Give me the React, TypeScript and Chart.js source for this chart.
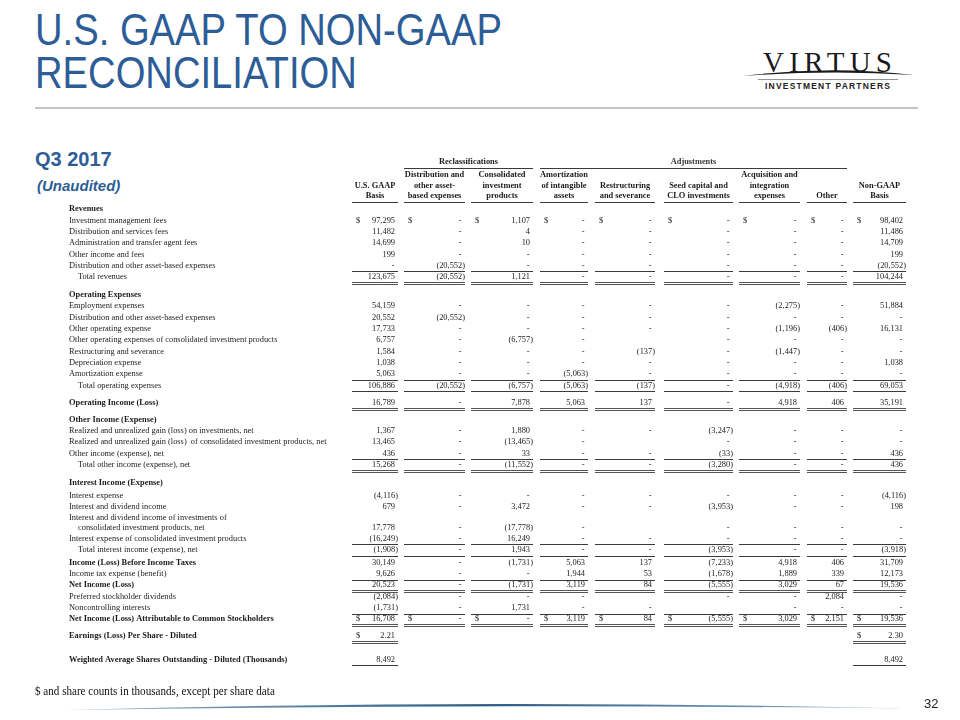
import React, { useEffect, useRef } from "react";
import { Chart, registerables } from "chart.js";

Chart.register(...registerables);

// ---------- DATA ----------
const rowLabels: string[] = [
  "Revenues",
  "Investment management fees",
  "Distribution and services fees",
  "Administration and transfer agent fees",
  "Other income and fees",
  "Distribution and other asset-based expenses",
  "Total revenues",
  "Operating Expenses",
  "Employment expenses",
  "Distribution and other asset-based expenses",
  "Other operating expense",
  "Other operating expenses of consolidated investment products",
  "Restructuring and severance",
  "Depreciation expense",
  "Amortization expense",
  "Total operating expenses",
  "Operating Income (Loss)",
  "Other Income (Expense)",
  "Realized and unrealized gain (loss) on investments, net",
  "Realized and unrealized gain (loss)  of consolidated investment products, net",
  "Other income (expense), net",
  "Total other income (expense), net",
  "Interest Income (Expense)",
  "Interest expense",
  "Interest and dividend income",
  "Interest and dividend income of investments of",
  "consolidated investment products, net",
  "Interest expense of consolidated investment products",
  "Total interest income (expense), net",
  "Income (Loss) Before Income Taxes",
  "Income tax expense (benefit)",
  "Net Income (Loss)",
  "Preferred stockholder dividends",
  "Noncontrolling interests",
  "Net Income (Loss) Attributable to Common Stockholders",
  "Earnings (Loss) Per Share - Diluted",
  "Weighted Average Shares Outstanding - Diluted (Thousands)",
];

const columnHeaders: string[][] = [
  ["", "U.S. GAAP", "Basis"],
  ["Distribution and", "other asset-", "based expenses"],
  ["Consolidated", "investment", "products"],
  ["Amortization", "of intangible", "assets"],
  ["", "Restructuring", "and severance"],
  ["", "Seed capital and", "CLO investments"],
  ["Acquisition and", "integration", "expenses"],
  ["", "", "Other"],
  ["", "Non-GAAP", "Basis"],
];

const groupHeaders = [
  { label: "Reclassifications", from: 1, to: 2 },
  { label: "Adjustments", from: 3, to: 7 },
];

// null = blank cell, 0 = "-"
const _ = null;
const gaapBasis = [
  _, 97295, 11482, 14699, 199, 0, 123675,
  _, 54159, 20552, 17733, 6757, 1584, 1038, 5063, 106886,
  16789,
  _, 1367, 13465, 436, 15268,
  _, -4116, 679, _, 17778, -16249, -1908,
  30149, 9626, 20523, -2084, -1731, 16708,
  2.21, 8492,
];
const distributionReclass = [
  _, 0, 0, 0, 0, -20552, -20552,
  _, 0, -20552, 0, 0, 0, 0, 0, -20552,
  0,
  _, 0, 0, 0, 0,
  _, 0, 0, _, 0, 0, 0,
  0, 0, 0, 0, 0, 0,
  _, _,
];
const consolidatedReclass = [
  _, 1107, 4, 10, 0, 0, 1121,
  _, 0, 0, 0, -6757, 0, 0, 0, -6757,
  7878,
  _, 1880, -13465, 33, -11552,
  _, 0, 3472, _, -17778, 16249, 1943,
  -1731, 0, -1731, 0, 1731, 0,
  _, _,
];
const amortizationAdj = [
  _, 0, 0, 0, 0, 0, 0,
  _, 0, 0, 0, 0, 0, 0, -5063, -5063,
  5063,
  _, 0, 0, 0, 0,
  _, 0, 0, _, 0, 0, 0,
  5063, 1944, 3119, 0, 0, 3119,
  _, _,
];
const restructuringAdj = [
  _, 0, 0, 0, 0, 0, 0,
  _, 0, 0, 0, _, -137, 0, 0, -137,
  137,
  _, 0, _, 0, 0,
  _, 0, 0, _, _, 0, 0,
  137, 53, 84, _, 0, 84,
  _, _,
];
const seedCapitalAdj = [
  _, 0, 0, 0, 0, 0, 0,
  _, 0, 0, 0, 0, 0, 0, 0, 0,
  0,
  _, -3247, 0, -33, -3280,
  _, 0, -3953, _, 0, 0, -3953,
  -7233, -1678, -5555, 0, _, -5555,
  _, _,
];
const acquisitionAdj = [
  _, 0, 0, 0, 0, 0, 0,
  _, -2275, 0, -1196, 0, -1447, 0, 0, -4918,
  4918,
  _, 0, 0, 0, 0,
  _, 0, 0, _, 0, 0, 0,
  4918, 1889, 3029, 0, 0, 3029,
  _, _,
];
const otherAdj = [
  _, 0, 0, 0, 0, 0, 0,
  _, 0, 0, -406, 0, 0, 0, 0, -406,
  406,
  _, 0, 0, 0, 0,
  _, 0, 0, _, 0, 0, 0,
  406, 339, 67, 2084, 0, 2151,
  _, _,
];
const nonGaapBasis = [
  _, 98402, 11486, 14709, 199, -20552, 104244,
  _, 51884, 0, 16131, 0, 0, 1038, 0, 69053,
  35191,
  _, 0, 0, 436, 436,
  _, -4116, 198, _, 0, 0, -3918,
  31709, 12173, 19536, 0, 0, 19536,
  2.3, 8492,
];

const seriesColumns = [
  gaapBasis, distributionReclass, consolidatedReclass, amortizationAdj, restructuringAdj,
  seedCapitalAdj, acquisitionAdj, otherAdj, nonGaapBasis,
];

// ---------- STYLE / LAYOUT ----------
const boldRows = [0, 7, 16, 17, 22, 29, 31, 34, 35, 36];
const indentRows = [6, 15, 21, 26, 28];
const dollarRows = [1, 34, 35];
const decimalRows = [35];
const rowGaps = [
  0, 1, 1, 1, 1, 1, 1,
  1.55, 1, 1, 1, 1, 1, 1, 1, 1,
  1.55,
  1.45, 1, 1, 1, 1,
  1.55, 1.15, 1, 1, 0.8, 1, 1,
  1.1, 1, 1, 1, 1, 1,
  1.45, 2.1,
];
// rules drawn below rows: [row, kind, onlyBasisCols]
const ruleBelow: [number, "single" | "double", boolean][] = [
  [5, "single", false], [6, "double", false],
  [14, "single", false], [15, "single", false], [16, "double", false],
  [20, "single", false], [21, "double", false],
  [27, "single", false], [28, "single", false],
  [30, "single", false], [31, "double", false],
  [33, "single", false], [34, "double", false],
  [35, "double", true], [36, "single", true],
];
const COLS = [
  { l: 352, r: 398 }, { l: 404, r: 465 }, { l: 471, r: 533 }, { l: 540, r: 588 },
  { l: 595, r: 655 }, { l: 664, r: 733 }, { l: 739, r: 800 }, { l: 807, r: 847 },
  { l: 853, r: 906 },
];
const LABEL_X = 69;
const INDENT_X = 78;
const PITCH = 11.35;
const FIRST_ROW_PX = 209;
const Y_MIN = -FIRST_ROW_PX / PITCH;
const Y_MAX = Y_MIN + 720 / PITCH;
const SERIF = '"Liberation Serif", "Times New Roman", serif';
const FS = 8.4;
const TEXT = "#1c1c1c";
const RULE = "#3a3a3a";
const BLUE = "#2d5d96";

const rowUnits: number[] = [];
rowGaps.reduce((acc, g, i) => {
  const u = acc + g;
  rowUnits[i] = u;
  return u;
}, 0);

function fmt(v: number, dec: boolean) {
  if (v === 0) return "-";
  const s = Math.abs(v).toLocaleString("en-US", {
    minimumFractionDigits: dec ? 2 : 0,
    maximumFractionDigits: dec ? 2 : 0,
  });
  return v < 0 ? `(${s})` : s;
}

const tablePlugin = {
  id: "reconTable",
  afterDatasetsDraw(chart: any) {
    const ctx: CanvasRenderingContext2D = chart.ctx;
    const xs = chart.scales.x;
    const ys = chart.scales.y;
    const X = (v: number) => xs.getPixelForValue(v);
    const Y = (v: number) => ys.getPixelForValue(v);
    const hline = (x1: number, x2: number, y: number, c = RULE) => {
      ctx.fillStyle = c;
      ctx.fillRect(Math.round(X(x1)), Math.round(Y(y)), Math.round(X(x2) - X(x1)), 1);
    };
    ctx.save();
    ctx.textBaseline = "middle";

    // group headers
    ctx.font = `bold ${FS}px ${SERIF}`;
    ctx.fillStyle = TEXT;
    ctx.textAlign = "center";
    groupHeaders.forEach((g) => {
      const x1 = COLS[g.from].l, x2 = COLS[g.to].r;
      ctx.fillText(g.label, X((x1 + x2) / 2), Y(-4.14));
      hline(x1, x2, -3.62);
    });
    // column headers
    columnHeaders.forEach((lines, ci) => {
      const c = COLS[ci];
      ctx.fillStyle = TEXT;
      lines.forEach((t, li) => {
        if (t) ctx.fillText(t, X((c.l + c.r) / 2), Y(-3.0 + li * 0.93));
      });
      hline(c.l, c.r, -0.6);
    });

    // row labels
    ctx.textAlign = "left";
    rowLabels.forEach((label, ri) => {
      ctx.font = `${boldRows.includes(ri) ? "bold " : ""}${FS}px ${SERIF}`;
      ctx.fillStyle = TEXT;
      ctx.fillText(label, X(indentRows.includes(ri) ? INDENT_X : LABEL_X), Y(rowUnits[ri]));
    });

    // values (placed at dataset element positions)
    ctx.font = `${FS}px ${SERIF}`;
    chart.data.datasets.forEach((ds: any, di: number) => {
      const meta = chart.getDatasetMeta(di);
      const c = COLS[di];
      meta.data.forEach((el: any, i: number) => {
        const raw = ds.data[i];
        const v = raw.v as number;
        const dec = decimalRows.includes(raw.row);
        const txt = fmt(v, dec);
        ctx.fillStyle = TEXT;
        ctx.textAlign = "right";
        const shift = v < 0 ? 0 : v === 0 ? 3.5 : 3;
        ctx.fillText(txt, el.x - shift, el.y);
        if (dollarRows.includes(raw.row)) {
          ctx.textAlign = "left";
          ctx.fillText("$", X(c.l + 4), el.y);
        }
      });
    });

    // rules
    ruleBelow.forEach(([ri, kind, only]) => {
      COLS.forEach((c, ci) => {
        if (only && ci !== 0 && ci !== 8) return;
        if (kind === "single") {
          hline(c.l, c.r, rowUnits[ri] + 5.6 / PITCH);
        } else {
          const yu = rowUnits[ri] + 5.0 / PITCH;
          hline(c.l, c.r, yu, "#555");
          hline(c.l, c.r, yu + 2 / PITCH, "#555");
        }
      });
    });
    ctx.restore();
  },
};

function Logo() {
  return (
    <svg width={960} height={120} style={{ position: "absolute", left: 0, top: 0 }}>
      <text x={763} y={72} fontFamily={SERIF} fontSize={29} fill="#1a1a1a" textLength={129} lengthAdjust="spacing">
        VIRTUS
      </text>
      <path d="M743,76 Q829,65 914,75 Q829,69.5 743,76 Z" fill="#1a1a1a" />
      <line x1={758} y1={79.5} x2={898} y2={79.5} stroke="#777" strokeWidth={0.8} />
      <text x={765} y={89} fontFamily='"Liberation Sans", Arial, sans-serif' fontWeight="bold" fontSize={8.5} fill="#222" textLength={125} lengthAdjust="spacing">
        INVESTMENT PARTNERS
      </text>
      <line x1={35} y1={108} x2={918} y2={108} stroke="#c4c4c4" strokeWidth={2} />
    </svg>
  );
}

function FooterLine() {
  return (
    <svg width={960} height={720} style={{ position: "absolute", left: 0, top: 0, pointerEvents: "none" }}>
      <defs>
        <linearGradient id="fl" x1="0" x2="1" y1="0" y2="0">
          <stop offset="0" stopColor="#8fb0c8" />
          <stop offset="0.5" stopColor="#2c5d86" />
          <stop offset="1" stopColor="#8fb0c8" />
        </linearGradient>
      </defs>
      <path d="M65,710 Q487,699 907,708.5 Q487,703.5 65,710 Z" fill="url(#fl)" />
    </svg>
  );
}

export default function App() {
  const canvasRef = useRef<HTMLCanvasElement>(null);

  useEffect(() => {
    const datasets = seriesColumns.map((series, ci) => ({
      label: columnHeaders[ci].filter(Boolean).join(" "),
      data: series
        .map((v, ri) => (v === null ? null : { x: COLS[ci].r, y: rowUnits[ri], v, row: ri }))
        .filter((p) => p !== null),
      pointRadius: 0,
      showLine: false,
    }));
    const chart = new Chart(canvasRef.current as HTMLCanvasElement, {
      type: "scatter",
      data: { datasets: datasets as any },
      options: {
        animation: false,
        responsive: false,
        events: [],
        layout: { padding: 0 },
        plugins: {
          legend: { display: false },
          tooltip: { enabled: false },
          title: { display: false },
        },
        scales: {
          x: { type: "linear", display: false, min: 0, max: 960 },
          y: { type: "linear", display: false, reverse: true, min: Y_MIN, max: Y_MAX },
        },
      },
      plugins: [tablePlugin as any],
    });
    return () => chart.destroy();
  }, []);

  const sans = '"Liberation Sans", Arial, sans-serif';
  return (
    <div style={{ position: "absolute", left: 0, top: 0, width: 960, height: 720, background: "#fff", overflow: "hidden" }}>
      <Logo />
      <div
        style={{
          position: "absolute", left: 35, top: 8, fontFamily: sans, fontSize: 44, lineHeight: "43px",
          color: BLUE, whiteSpace: "nowrap", transform: "scaleX(0.868)", transformOrigin: "left top",
        }}
      >
        U.S. GAAP TO NON-GAAP
        <br />
        RECONCILIATION
      </div>
      <div style={{ position: "absolute", left: 35, top: 148, fontFamily: sans, fontSize: 20, fontWeight: "bold", color: BLUE }}>
        Q3 2017
      </div>
      <div style={{ position: "absolute", left: 37, top: 177, fontFamily: sans, fontSize: 15, fontWeight: "bold", fontStyle: "italic", color: BLUE }}>
        (Unaudited)
      </div>
      <canvas ref={canvasRef} width={960} height={720} style={{ position: "absolute", left: 0, top: 0 }} />
      <div
        style={{
          position: "absolute", left: 35, top: 684, fontFamily: SERIF, fontSize: 12, color: "#111",
          whiteSpace: "nowrap", transform: "scaleX(0.925)", transformOrigin: "left top",
        }}
      >
        $ and share counts in thousands, except per share data
      </div>
      <div style={{ position: "absolute", left: 924, top: 696, fontFamily: sans, fontSize: 13, color: "#222" }}>32</div>
      <FooterLine />
    </div>
  );
}
